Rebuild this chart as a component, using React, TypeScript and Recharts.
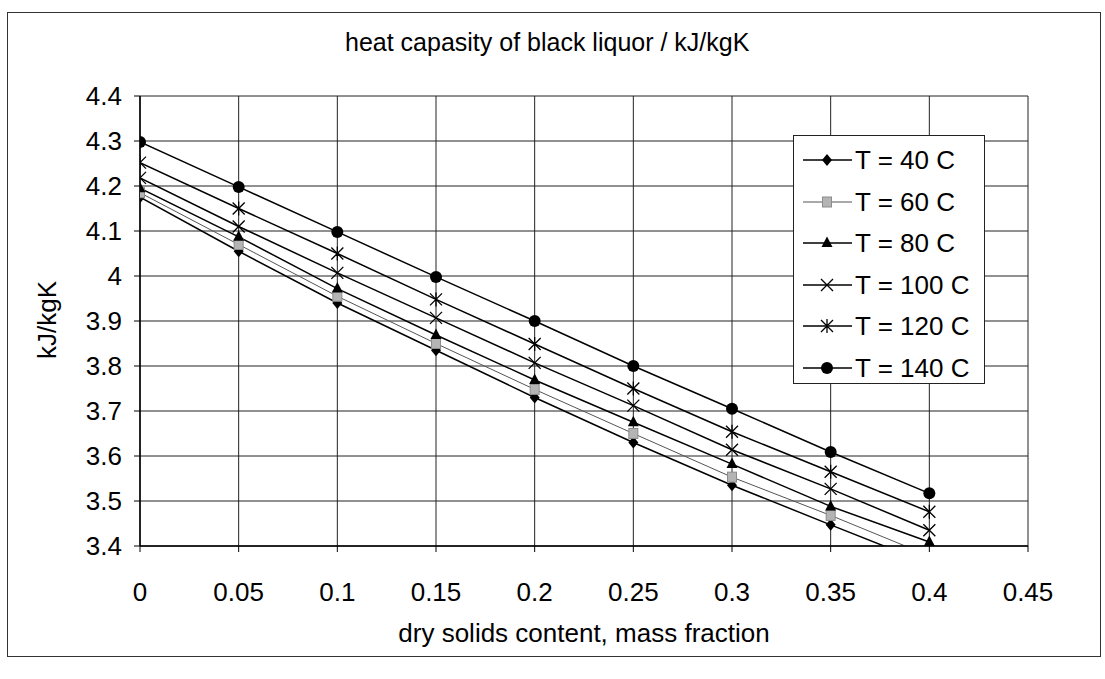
import React from 'react';
import { LineChart, Line, XAxis, YAxis, CartesianGrid } from 'recharts';

// ---- data ----
const dryContent = [0, 0.05, 0.1, 0.15, 0.2, 0.25, 0.3, 0.35, 0.4];
const t40 = [4.175, 4.055, 3.94, 3.835, 3.73, 3.63, 3.535, 3.447, 3.36];
const t60 = [4.185, 4.07, 3.955, 3.85, 3.748, 3.65, 3.553, 3.468, 3.378];
const t80 = [4.195, 4.087, 3.972, 3.869, 3.769, 3.675, 3.582, 3.488, 3.409];
const t100 = [4.218, 4.11, 4.007, 3.907, 3.807, 3.712, 3.614, 3.527, 3.435];
const t120 = [4.252, 4.15, 4.05, 3.948, 3.849, 3.75, 3.654, 3.565, 3.476];
const t140 = [4.298, 4.198, 4.098, 3.998, 3.9, 3.8, 3.705, 3.609, 3.517];

const seriesNames = ['T = 40 C', 'T = 60 C', 'T = 80 C', 'T = 100 C', 'T = 120 C', 'T = 140 C'];
const seriesKeys = ['t40', 't60', 't80', 't100', 't120', 't140'];
const seriesValues = [t40, t60, t80, t100, t120, t140];
const seriesShapes = ['diamond', 'square', 'triangle', 'cross', 'star', 'circle'];

const xTicks = [0, 0.05, 0.1, 0.15, 0.2, 0.25, 0.3, 0.35, 0.4, 0.45];
const yTicks = [3.4, 3.5, 3.6, 3.7, 3.8, 3.9, 4.0, 4.1, 4.2, 4.3, 4.4];

const title = 'heat capasity of black liquor / kJ/kgK';
const xLabel = 'dry solids content, mass fraction';
const yLabel = 'kJ/kgK';

const rows = dryContent.map((x, i) => {
  const r: Record<string, number> = { x };
  seriesKeys.forEach((k, s) => {
    r[k] = seriesValues[s][i];
  });
  return r;
});

const FONT = '"Liberation Sans", Arial, Helvetica, sans-serif';
const Y_MIN = 3.4;

function Marker({ shape, cx, cy }: { shape: string; cx: number; cy: number }) {
  switch (shape) {
    case 'diamond':
      return <polygon points={`${cx},${cy - 6} ${cx + 5},${cy} ${cx},${cy + 6} ${cx - 5},${cy}`} fill="#000" />;
    case 'square':
      return <rect x={cx - 4.5} y={cy - 5} width={9} height={10} fill="#b4b4b4" stroke="#8c8c8c" strokeWidth={1} />;
    case 'triangle':
      return <polygon points={`${cx},${cy - 6.5} ${cx + 5.5},${cy + 4} ${cx - 5.5},${cy + 4}`} fill="#000" />;
    case 'cross':
      return (
        <path
          d={`M${cx - 6},${cy - 6}L${cx + 6},${cy + 6}M${cx - 6},${cy + 6}L${cx + 6},${cy - 6}`}
          stroke="#000"
          strokeWidth={1.3}
          fill="none"
        />
      );
    case 'star':
      return (
        <path
          d={`M${cx - 6},${cy - 6}L${cx + 6},${cy + 6}M${cx - 6},${cy + 6}L${cx + 6},${cy - 6}M${cx},${cy - 7}L${cx},${cy + 7}`}
          stroke="#000"
          strokeWidth={1.3}
          fill="none"
        />
      );
    case 'circle':
    default:
      return <circle cx={cx} cy={cy} r={6} fill="#000" />;
  }
}

function makeDot(shape: string, key: string) {
  return (p: any) => {
    const k = `${key}-${p.index}`;
    if (p.cx == null || p.cy == null || p.value == null || p.value < Y_MIN) return <g key={k} />;
    return (
      <g key={k}>
        <Marker shape={shape} cx={p.cx} cy={p.cy} />
      </g>
    );
  };
}

function LegendBox() {
  return (
    <div
      style={{
        position: 'absolute',
        left: 793,
        top: 135,
        width: 192,
        height: 249,
        border: '1.5px solid #222',
        background: '#fff',
        boxSizing: 'border-box',
        fontFamily: FONT,
      }}
    >
      {seriesNames.map((name, i) => (
        <div
          key={name}
          style={{ position: 'absolute', left: 0, top: 4 + i * 41.5, height: 40, width: 190 }}
        >
          <svg width={56} height={40} style={{ position: 'absolute', left: 6, top: 0 }}>
            <line
              x1={3}
              x2={52}
              y1={20}
              y2={20}
              stroke={i === 1 ? '#555' : '#000'}
              strokeWidth={i === 1 ? 1 : 1.5}
            />
            <Marker shape={seriesShapes[i]} cx={27} cy={20} />
          </svg>
          <div
            style={{
              position: 'absolute',
              left: 61,
              top: 0,
              lineHeight: '40px',
              fontSize: 26,
              color: '#000',
              whiteSpace: 'nowrap',
            }}
          >
            {name}
          </div>
        </div>
      ))}
    </div>
  );
}

export default function App() {
  return (
    <div
      style={{
        position: 'absolute',
        left: 0,
        top: 0,
        width: 1105,
        height: 679,
        background: '#fff',
        fontFamily: FONT,
      }}
    >
      <div
        style={{
          position: 'absolute',
          left: 7,
          top: 12,
          width: 1094,
          height: 645,
          border: '1.5px solid #333',
          boxSizing: 'border-box',
        }}
      />
      <LineChart
        width={1105}
        height={679}
        data={rows}
        margin={{ top: 96, right: 77, bottom: 0, left: 0 }}
        style={{ position: 'absolute', left: 0, top: 0 }}
      >
        <CartesianGrid stroke="#222" strokeWidth={1} horizontalValues={yTicks} verticalValues={xTicks} />
        <XAxis
          dataKey="x"
          type="number"
          domain={[0, 0.45]}
          ticks={xTicks}
          interval={0}
          height={133}
          tickSize={6}
          tickMargin={31}
          tickFormatter={(v: number) => String(Number(v.toFixed(2)))}
          tick={{ fontSize: 26, fill: '#000', fontFamily: FONT }}
          axisLine={{ stroke: '#000', strokeWidth: 1.5 }}
          tickLine={{ stroke: '#000' }}
          allowDataOverflow
        />
        <YAxis
          type="number"
          domain={[3.4, 4.4]}
          ticks={yTicks}
          interval={0}
          width={140}
          tickSize={6}
          tickMargin={12}
          tickFormatter={(v: number) => String(Number(v.toFixed(1)))}
          tick={{ fontSize: 26, fill: '#000', fontFamily: FONT }}
          axisLine={{ stroke: '#000', strokeWidth: 1.5 }}
          tickLine={{ stroke: '#000' }}
          allowDataOverflow
        />
        {seriesKeys.map((k, i) => (
          <Line
            key={k}
            dataKey={k}
            name={seriesNames[i]}
            type="linear"
            stroke={i === 1 ? '#555' : '#000'}
            strokeWidth={i === 1 ? 1 : 1.5}
            dot={makeDot(seriesShapes[i], k)}
            activeDot={false}
            isAnimationActive={false}
          />
        ))}
      </LineChart>
      <div
        style={{
          position: 'absolute',
          left: 345,
          width: 400,
          top: 26,
          textAlign: 'center',
          fontSize: 25,
          lineHeight: '32px',
          color: '#000',
          whiteSpace: 'nowrap',
        }}
      >
        {title}
      </div>
      <div
        style={{
          position: 'absolute',
          left: 384,
          width: 400,
          top: 617,
          textAlign: 'center',
          fontSize: 26,
          lineHeight: '32px',
          color: '#000',
          whiteSpace: 'nowrap',
        }}
      >
        {xLabel}
      </div>
      <div
        style={{
          position: 'absolute',
          left: 47 - 60,
          top: 320 - 16,
          width: 120,
          textAlign: 'center',
          fontSize: 26,
          lineHeight: '32px',
          color: '#000',
          transform: 'rotate(-90deg)',
          whiteSpace: 'nowrap',
        }}
      >
        {yLabel}
      </div>
      <LegendBox />
    </div>
  );
}
